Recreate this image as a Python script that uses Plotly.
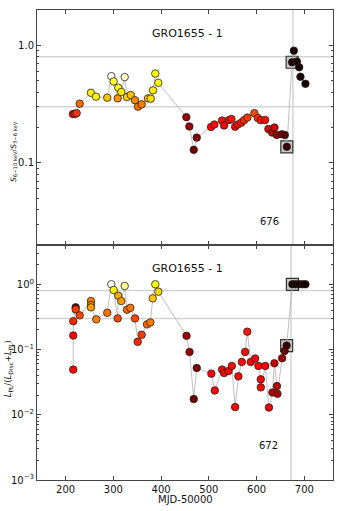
import plotly.graph_objects as go
from plotly.subplots import make_subplots

# ---------------- data ----------------
# top panel: hardness ratio S(6-10 keV)/S(3-6 keV)
mjd_top = [215.3, 219.5, 223.0, 229.4, 253.0, 263.5, 287.2, 295.6, 300.6, 309.0,
           310.3, 316.6, 323.7, 328.5, 336.3, 345.3, 351.6, 359.3, 372.5, 378.2,
           383.0, 387.8, 394.1, 452.8, 459.1, 468.3, 474.6, 504.6, 511.5, 527.7,
           531.9, 541.7, 547.2, 555.0, 560.6, 568.1, 573.8, 580.7, 595.4, 602.5,
           608.8, 617.8, 624.7, 632.5, 637.3, 642.3, 652.8, 659.1, 663.3, 674.4,
           678.0, 684.3, 689.1, 691.8, 702.3]
hr_top = [0.260, 0.261, 0.265, 0.319, 0.395, 0.366, 0.359, 0.547, 0.493, 0.354,
          0.436, 0.401, 0.537, 0.363, 0.378, 0.341, 0.301, 0.315, 0.354, 0.352,
          0.414, 0.576, 0.480, 0.245, 0.204, 0.129, 0.164, 0.202, 0.212, 0.229,
          0.208, 0.231, 0.236, 0.203, 0.212, 0.220, 0.231, 0.243, 0.265, 0.241,
          0.231, 0.232, 0.194, 0.181, 0.200, 0.173, 0.175, 0.173, 0.137, 0.718,
          0.902, 0.728, 0.652, 0.540, 0.471]
col_top = [0.36, 0.40, 0.44, 0.52, 0.72, 0.73, 0.66, 1.00, 0.80, 0.58,
           0.74, 0.72, 0.95, 0.68, 0.65, 0.57, 0.53, 0.55, 0.64, 0.70,
           0.72, 0.75, 0.76, 0.22, 0.22, 0.15, 0.17, 0.36, 0.38, 0.38,
           0.36, 0.38, 0.40, 0.36, 0.38, 0.40, 0.43, 0.45, 0.48, 0.43,
           0.40, 0.38, 0.32, 0.27, 0.30, 0.20, 0.17, 0.12, 0.07, 0.02,
           0.02, 0.02, 0.02, 0.02, 0.02]

# bottom panel: power-law fraction L_PL/(L_Disc+L_PL)
mjd_bot = [215.9, 215.9, 215.9, 221.0, 221.0, 229.4, 253.0, 253.0, 253.0, 264.2,
           287.2, 295.6, 300.6, 309.0, 310.3, 316.6, 323.7, 328.5, 335.4, 345.3,
           350.9, 359.3, 370.4, 377.4, 382.4, 387.8, 394.1, 453.2, 459.5, 468.3,
           474.6, 505.2, 512.4, 527.7, 531.9, 541.3, 548.1, 555.0, 561.8, 569.0,
           575.9, 580.5, 587.8, 596.9, 603.8, 608.8, 608.8, 618.2, 625.8, 633.1,
           637.3, 642.6, 643.6, 653.5, 658.7, 662.9, 675.0, 682.0, 689.0, 696.0,
           702.3]
frac_bot = [0.0492, 0.164, 0.272, 0.443, 0.412, 0.334, 0.553, 0.481, 0.443, 0.290,
            0.366, 1.000, 0.817, 0.300, 0.668, 0.553, 0.942, 0.407, 0.436, 0.300,
            0.131, 0.168, 0.243, 0.260, 0.609, 1.000, 0.770, 0.162, 0.0918, 0.0174,
            0.0521, 0.0427, 0.0236, 0.0492, 0.0436, 0.0469, 0.0560, 0.0131, 0.0388, 0.0645,
            0.0918, 0.188, 0.0645, 0.0727, 0.0560, 0.0349, 0.0263, 0.0560, 0.0129, 0.0220,
            0.0615, 0.0275, 0.0210, 0.0735, 0.0951, 0.115, 1.0, 1.0, 1.0, 1.0,
            1.0]
col_bot = [0.36, 0.37, 0.42, 0.12, 0.45, 0.47, 0.55, 0.58, 0.60, 0.55,
           0.53, 1.00, 0.74, 0.47, 0.62, 0.60, 0.88, 0.52, 0.54, 0.47,
           0.42, 0.45, 0.52, 0.55, 0.66, 0.75, 0.68, 0.22, 0.22, 0.15,
           0.17, 0.36, 0.38, 0.37, 0.36, 0.37, 0.38, 0.36, 0.37, 0.38,
           0.38, 0.40, 0.37, 0.37, 0.36, 0.36, 0.36, 0.36, 0.34, 0.26,
           0.28, 0.25, 0.24, 0.22, 0.15, 0.07, 0.02, 0.02, 0.02, 0.02,
           0.02]

# boxed (marked) observations
box_top_x = [663.3, 674.4]
box_top_y = [0.137, 0.718]
box_bot_x = [662.9, 675.0]
box_bot_y = [0.115, 1.0]

vline_top = 676
vline_bot = 672
hlines = [0.8, 0.3]
title_text = "GRO1655 - 1"

x_ticks = [200, 300, 400, 500, 600, 700]
top_major = [0.1, 1.0]
top_major_text = ["0.1", "1.0"]
bot_major = [0.001, 0.01, 0.1, 1.0]
bot_major_text = ["10<sup>−3</sup>", "10<sup>−2</sup>", "10<sup>−1</sup>", "10<sup>0</sup>"]

# ---------------- figure ----------------
HOT = [[0.0, "#0b0000"], [0.365, "#ff0000"], [0.746, "#ffff00"], [1.0, "#ffffff"]]
FONT = "DejaVu Sans"
TXT = "#111111"

fig = make_subplots(rows=2, cols=1, shared_xaxes=False, vertical_spacing=0.0)


def add_panel(row, xs, ys, cs, bx, by):
    fig.add_trace(go.Scatter(
        x=bx, y=by, mode="markers", hoverinfo="skip",
        marker=dict(symbol="square", size=12, color="#c8c8c8",
                    line=dict(color="#333333", width=1.2))), row=row, col=1)
    fig.add_trace(go.Scatter(
        x=xs, y=ys, mode="lines+markers",
        line=dict(color="#b0b0b0", width=0.8),
        marker=dict(size=7.5, color=cs, colorscale=HOT, cmin=0, cmax=1,
                    line=dict(color="#222222", width=0.8))), row=row, col=1)


add_panel(1, mjd_top, hr_top, col_top, box_top_x, box_top_y)
add_panel(2, mjd_bot, frac_bot, col_bot, box_bot_x, box_bot_y)

axis_common = dict(showgrid=False, zeroline=False, showline=True, linecolor="#444444",
                   linewidth=1, mirror="ticks", ticks="inside", ticklen=4, automargin=False,
                   tickcolor="#444444", tickfont=dict(family=FONT, size=10, color=TXT))

fig.update_xaxes(range=[140, 760], tickvals=x_ticks, **axis_common)
fig.update_xaxes(showticklabels=False, row=1, col=1)

top_minor = [v * m for v in [0.01, 0.1, 1.0] for m in range(2, 10)]
top_minor = [v for v in top_minor if 0.02 <= v <= 2.0]
bot_minor = [v * m for v in [0.001, 0.01, 0.1, 1.0] for m in range(2, 10)]
bot_minor = [v for v in bot_minor if v <= 4.0]

fig.update_yaxes(type="log", range=[-1.699, 0.301], tickmode="array",
                 tickvals=top_major, ticktext=top_major_text,
                 minor=dict(tickmode="array", tickvals=top_minor, ticks="inside",
                            ticklen=2, tickcolor="#444444", showgrid=False),
                 row=1, col=1, **axis_common)
fig.update_yaxes(type="log", range=[-3, 0.602], tickmode="array",
                 tickvals=bot_major, ticktext=bot_major_text,
                 minor=dict(tickmode="array", tickvals=bot_minor, ticks="inside",
                            ticklen=2, tickcolor="#444444", showgrid=False),
                 row=2, col=1, **axis_common)

# reference lines
for ax_y, ax_x, vx in [("y", "x", vline_top), ("y2", "x2", vline_bot)]:
    for h in hlines:
        fig.add_shape(type="line", xref=ax_x + " domain", yref=ax_y, x0=0, x1=1, y0=h, y1=h,
                      line=dict(color="#d4d4d4", width=1.5), layer="below")
    fig.add_shape(type="line", xref=ax_x, yref=ax_y + " domain", x0=vx, x1=vx, y0=0, y1=1,
                  line=dict(color="#d4d4d4", width=1.5), layer="below")


def note(**kw):
    fig.add_annotation(showarrow=False, xanchor="center", yanchor="middle", **kw)


# annotations
note(xref="x", yref="y domain", x=455, y=0.902, text=title_text,
     font=dict(family=FONT, size=11, color=TXT))
note(xref="x2", yref="y2 domain", x=455, y=0.902, text=title_text,
     font=dict(family=FONT, size=11, color=TXT))
note(xref="x", yref="y domain", x=628, y=0.10, text=str(vline_top),
     font=dict(family=FONT, size=10, color=TXT))
note(xref="x2", yref="y2 domain", x=624, y=0.146, text=str(vline_bot),
     font=dict(family=FONT, size=10, color=TXT))

# axis titles
note(xref="paper", yref="paper", x=-0.078, y=0.70, textangle=-90,
     text="<i>S</i><sub>6−10 keV</sub>/<i>S</i><sub>3−6 keV</sub>",
     font=dict(family=FONT, size=7.5, color=TXT))
note(xref="paper", yref="paper", x=-0.097, y=0.236, textangle=-90,
     text="<i>L</i><sub>PL</sub>/(<i>L</i><sub>Disc</sub>+<i>L</i><sub>PL</sub>)",
     font=dict(family=FONT, size=8.5, color=TXT))
note(xref="paper", yref="paper", x=0.503, y=-0.042,
     text="MJD-50000", font=dict(family=FONT, size=10, color=TXT))

fig.update_layout(width=341, height=511, margin=dict(l=37, r=8, t=10, b=31, autoexpand=False),
                  showlegend=False, plot_bgcolor="white", paper_bgcolor="white",
                  font=dict(family=FONT))

fig.write_html("out.html", config={"displayModeBar": False},
               post_script="document.body.style.margin='0';document.body.style.overflow='hidden';")
